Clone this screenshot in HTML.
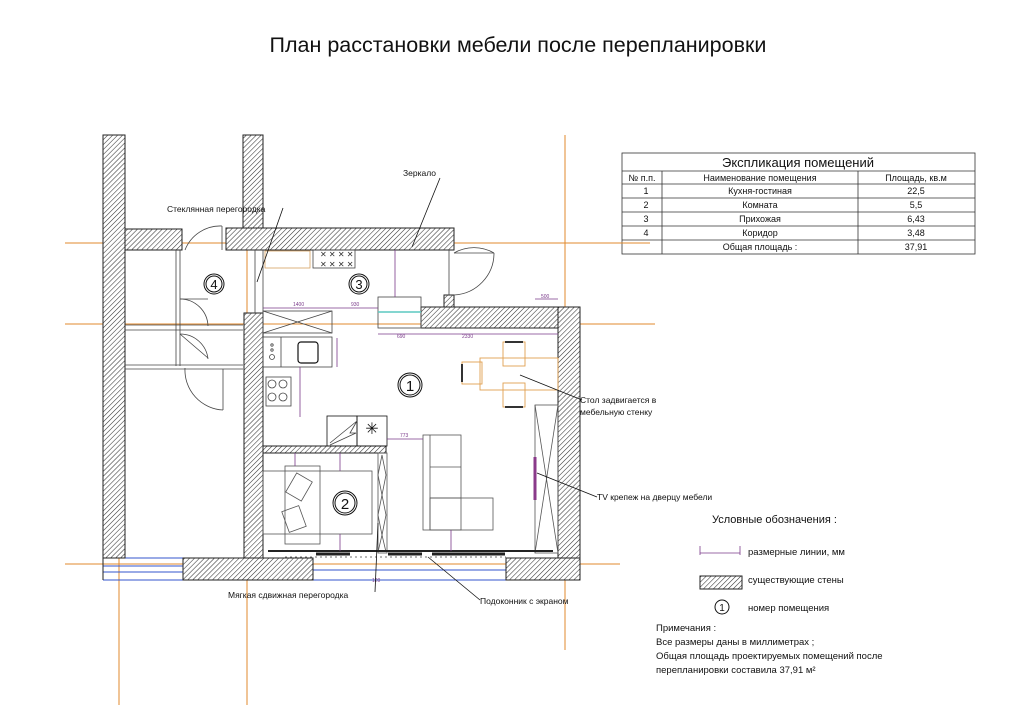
<!DOCTYPE html>
<html><head><meta charset="utf-8"><style>
html,body{margin:0;padding:0;background:#fff;}
svg{display:block;font-family:"Liberation Sans","DejaVu Sans",sans-serif;}
</style></head><body>
<svg width="1024" height="723" viewBox="0 0 1024 723" xmlns="http://www.w3.org/2000/svg">
<defs>
<pattern id="h" width="3.5" height="3.5" patternUnits="userSpaceOnUse" patternTransform="rotate(45)">
<rect width="3.5" height="3.5" fill="#fff"/><line x1="0" y1="0" x2="0" y2="3.5" stroke="#333" stroke-width="1.1"/>
</pattern>
</defs>
<rect width="1024" height="723" fill="#fff"/>
<text x="518" y="52" font-size="21.5" text-anchor="middle" fill="#111">План расстановки мебели после перепланировки</text>

<!-- orange axes -->
<g stroke="#e08a2c" stroke-width="1">
<line x1="65" y1="243" x2="612" y2="243"/>
<line x1="65" y1="324" x2="655" y2="324"/>
<line x1="65" y1="564" x2="620" y2="564"/>
<line x1="119" y1="135" x2="119" y2="705"/>
<line x1="247" y1="135" x2="247" y2="705"/>
<line x1="565" y1="135" x2="565" y2="650"/>
</g>

<!-- windows -->
<g stroke="#3355cc" stroke-width="1">
<line x1="103" y1="558" x2="183" y2="558"/><line x1="103" y1="580" x2="183" y2="580"/>
<line x1="103" y1="566" x2="183" y2="566"/><line x1="103" y1="572" x2="183" y2="572"/>
<line x1="313" y1="570" x2="506" y2="570"/><line x1="313" y1="580" x2="506" y2="580"/>
</g>

<!-- walls -->
<g fill="url(#h)" stroke="#222" stroke-width="1">
<rect x="103" y="135" width="22" height="423"/>
<rect x="243" y="135" width="20" height="93"/>
<rect x="125" y="229" width="57" height="21"/>
<rect x="226" y="228" width="228" height="22"/>
<rect x="444" y="295" width="10" height="17"/>
<rect x="421" y="307" width="159" height="21"/>
<rect x="558" y="307" width="22" height="273"/>
<rect x="244" y="313" width="19" height="245"/>
<rect x="183" y="558" width="130" height="22"/>
<rect x="506" y="558" width="74" height="22"/>
<rect x="263" y="446" width="123" height="7"/>
</g>
<line x1="103" y1="558" x2="103" y2="580" stroke="#222"/>

<!-- room outlines -->
<g fill="none" stroke="#444" stroke-width="0.8">
<line x1="263" y1="250" x2="263" y2="313"/>
<line x1="255" y1="250" x2="255" y2="313"/>
<line x1="449" y1="250" x2="449" y2="295"/>
<line x1="180" y1="250" x2="180" y2="366"/>
<line x1="176" y1="250" x2="176" y2="366"/>
<line x1="125" y1="325" x2="243" y2="325"/><line x1="125" y1="330" x2="243" y2="330"/>
<line x1="125" y1="365" x2="243" y2="365"/><line x1="125" y1="369" x2="243" y2="369"/>
<line x1="223" y1="369" x2="223" y2="410"/>
<path d="M180 299 A28 28 0 0 1 208 326"/><line x1="180" y1="299" x2="208" y2="299"/>
<path d="M180 334 A28 28 0 0 1 208 359"/><line x1="180" y1="334" x2="208" y2="358"/>
<path d="M185 368 A40 40 0 0 0 223 410"/>
<path d="M185 250 A38 38 0 0 1 222 226"/><line x1="222" y1="226" x2="222" y2="250"/>
<path d="M454 253 A40 40 0 0 1 494 253"/><path d="M494 253 A42 42 0 0 1 454 295"/>
<line x1="454" y1="253" x2="494" y2="253"/>
</g>

<!-- room 3 furniture -->
<g fill="none" stroke="#444" stroke-width="0.8">
<rect x="265" y="251" width="45" height="17" stroke="#d6a060"/>
<rect x="313" y="250" width="42" height="18"/>
<rect x="378" y="297" width="43" height="31"/>
<rect x="263" y="311" width="69" height="22"/><line x1="263" y1="311" x2="332" y2="333"/><line x1="332" y1="311" x2="263" y2="333"/>
<rect x="263" y="337" width="69" height="30"/><line x1="281" y1="337" x2="281" y2="367"/>
<rect x="298" y="342" width="20" height="21" rx="3" stroke="#111" stroke-width="1.2"/>
<circle cx="272" cy="345" r="1.2"/><circle cx="272" cy="350" r="1.2"/><circle cx="272" cy="357" r="2.5"/>
<rect x="266" y="377" width="25" height="29"/>
<circle cx="272" cy="384" r="4"/><circle cx="283" cy="384" r="4"/><circle cx="272" cy="397" r="4"/><circle cx="283" cy="397" r="4"/>
<rect x="327" y="416" width="30" height="30" stroke="#111"/><rect x="357" y="416" width="30" height="30" stroke="#111"/>
<path d="M330 443 L357 421 L350 433 L356 433 L330 445" />
</g>
<line x1="378" y1="312" x2="421" y2="312" stroke="#5cc9c0" stroke-width="1.5"/>
<text x="372" y="434" font-size="16" text-anchor="middle" fill="#111">✳</text>
<g fill="#333" font-size="8">
<text x="320" y="257">✕ ✕ ✕ ✕</text><text x="320" y="267">✕ ✕ ✕ ✕</text>
</g>

<!-- room 2 -->
<g fill="none" stroke="#555" stroke-width="0.8">
<rect x="263" y="471" width="109" height="63"/>
<rect x="285" y="466" width="35" height="78"/>
<rect x="290" y="476" width="18" height="22" transform="rotate(30 299 487)"/>
<rect x="285" y="508" width="18" height="22" transform="rotate(-20 294 519)"/>
<rect x="378" y="453" width="9" height="100"/>
<path d="M382 455 L378 475 L382 495 L378 515 L382 535 L378 552"/>
<path d="M382 455 L386 475 L382 495 L386 515 L382 535 L386 552"/>
</g>

<!-- room 1 furniture -->
<g fill="none" stroke="#555" stroke-width="0.8">
<rect x="423" y="435" width="38" height="95"/><line x1="430" y1="435" x2="430" y2="530"/>
<line x1="430" y1="467" x2="461" y2="467"/><line x1="430" y1="498" x2="461" y2="498"/>
<rect x="430" y="498" width="63" height="32"/>
<rect x="535" y="405" width="23" height="148"/><line x1="535" y1="405" x2="558" y2="553"/><line x1="558" y1="405" x2="535" y2="553"/>
</g>
<g fill="none" stroke="#e0a050" stroke-width="0.9">
<rect x="480" y="358" width="78" height="32"/>
<rect x="503" y="342" width="22" height="24"/><rect x="503" y="383" width="22" height="24"/>
<rect x="462" y="362" width="20" height="22"/>
</g>
<g stroke="#333" stroke-width="2"><line x1="505" y1="342" x2="523" y2="342"/><line x1="505" y1="407" x2="523" y2="407"/><line x1="462" y1="364" x2="462" y2="382"/></g>
<line x1="535" y1="457" x2="535" y2="500" stroke="#8a3a8a" stroke-width="3"/>
<!-- sill -->
<line x1="268" y1="551" x2="553" y2="551" stroke="#222" stroke-width="2"/>
<g stroke="#222" stroke-width="3"><line x1="316" y1="554" x2="350" y2="554"/><line x1="388" y1="554" x2="422" y2="554"/><line x1="432" y1="554" x2="476" y2="554"/><line x1="470" y1="554" x2="505" y2="554"/></g>
<line x1="285" y1="557" x2="506" y2="557" stroke="#444" stroke-width="0.8" stroke-dasharray="2 3"/>

<!-- dimensions -->
<g stroke="#7a3a8a" stroke-width="0.8" fill="none">
<line x1="263" y1="308" x2="378" y2="308"/><line x1="395" y1="250" x2="395" y2="297"/>
<line x1="378" y1="334" x2="558" y2="334"/><line x1="535" y1="299" x2="558" y2="299"/>
<line x1="337" y1="338" x2="337" y2="367"/><line x1="300" y1="367" x2="300" y2="417"/>
<line x1="387" y1="439" x2="423" y2="439"/><line x1="340" y1="453" x2="340" y2="471"/>
<line x1="295" y1="453" x2="295" y2="466"/><line x1="340" y1="534" x2="340" y2="551"/>
<line x1="451" y1="530" x2="451" y2="551"/>
</g>
<g fill="#7a3a8a" font-size="5">
<text x="293" y="306">1400</text><text x="351" y="306">930</text><text x="397" y="338">690</text><text x="462" y="338">2330</text>
<text x="541" y="298">500</text><text x="400" y="437">773</text><text x="372" y="582">120</text>
</g>

<!-- leaders -->
<g stroke="#111" stroke-width="0.8">
<line x1="440" y1="178" x2="412" y2="247"/>
<line x1="283" y1="208" x2="257" y2="282"/>
<line x1="582" y1="400" x2="520" y2="375"/>
<line x1="597" y1="497" x2="537" y2="473"/>
<line x1="375" y1="592" x2="378" y2="523"/>
<line x1="480" y1="600" x2="428" y2="557"/>
</g>
<g font-size="8.5" fill="#111">
<text x="403" y="176">Зеркало</text>
<text x="167" y="212">Стеклянная перегородка</text>
<text x="580" y="403">Стол задвигается в</text>
<text x="580" y="415">мебельную стенку</text>
<text x="597" y="500">TV крепеж на дверцу мебели</text>
<text x="228" y="598">Мягкая сдвижная перегородка</text>
<text x="480" y="604">Подоконник с экраном</text>
</g>

<!-- room numbers -->
<g fill="none" stroke="#111"><circle cx="214" cy="284" r="10"/><circle cx="214" cy="284" r="8"/>
<circle cx="359" cy="284" r="10"/><circle cx="359" cy="284" r="8"/>
<circle cx="410" cy="385" r="12"/><circle cx="410" cy="385" r="10"/>
<circle cx="345" cy="503" r="12"/><circle cx="345" cy="503" r="10"/>
<circle cx="722" cy="607" r="7"/></g>
<g text-anchor="middle" fill="#111"><text x="214" y="289" font-size="13">4</text><text x="359" y="289" font-size="13">3</text>
<text x="410" y="391" font-size="15">1</text><text x="345" y="509" font-size="15">2</text><text x="722" y="611" font-size="10">1</text></g>

<!-- table -->
<g stroke="#333" stroke-width="0.8" fill="none">
<rect x="622" y="153" width="353" height="101"/>
<line x1="622" y1="171" x2="975" y2="171"/><line x1="622" y1="184" x2="975" y2="184"/>
<line x1="622" y1="198" x2="975" y2="198"/><line x1="622" y1="212" x2="975" y2="212"/>
<line x1="622" y1="226" x2="975" y2="226"/><line x1="622" y1="240" x2="975" y2="240"/>
<line x1="662" y1="171" x2="662" y2="254"/><line x1="858" y1="171" x2="858" y2="254"/>
</g>
<line x1="600" y1="243" x2="650" y2="243" stroke="#e08a2c"/>
<text x="798" y="167" font-size="13" text-anchor="middle" fill="#111">Экспликация помещений</text>
<g font-size="9" fill="#111" text-anchor="middle">
<text x="642" y="181">№ п.п.</text><text x="760" y="181">Наименование помещения</text><text x="916" y="181">Площадь, кв.м</text>
<text x="646" y="194">1</text><text x="760" y="194">Кухня-гостиная</text><text x="916" y="194">22,5</text>
<text x="646" y="208">2</text><text x="760" y="208">Комната</text><text x="916" y="208">5,5</text>
<text x="646" y="222">3</text><text x="760" y="222">Прихожая</text><text x="916" y="222">6,43</text>
<text x="646" y="236">4</text><text x="760" y="236">Коридор</text><text x="916" y="236">3,48</text>
<text x="760" y="250">Общая площадь :</text><text x="916" y="250">37,91</text>
</g>

<!-- legend -->
<text x="712" y="523" font-size="11" fill="#111">Условные обозначения :</text>
<g stroke="#7a3a8a" stroke-width="0.8"><line x1="700" y1="553" x2="740" y2="553"/><line x1="700" y1="546" x2="700" y2="555"/><line x1="740" y1="546" x2="740" y2="555"/></g>
<rect x="700" y="576" width="42" height="13" fill="url(#h)" stroke="#222"/>
<g font-size="9.5" fill="#111">
<text x="748" y="555">размерные линии, мм</text>
<text x="748" y="583">существующие стены</text>
<text x="748" y="611">номер помещения</text>
<text x="656" y="631">Примечания :</text>
<text x="656" y="645">Все размеры даны в миллиметрах ;</text>
<text x="656" y="659">Общая площадь проектируемых помещений после</text>
<text x="656" y="673">перепланировки составила  37,91 м²</text>
</g>
</svg>
</body></html>
